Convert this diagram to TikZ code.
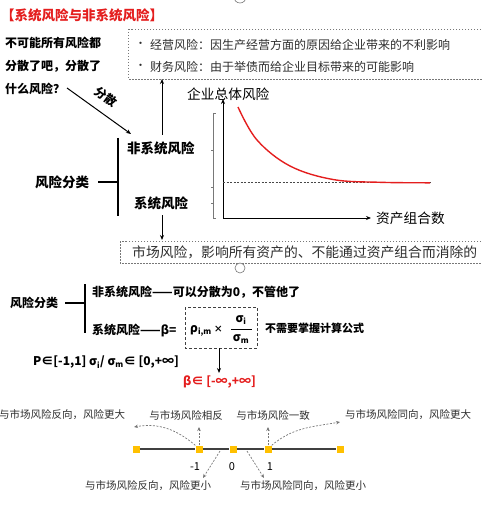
\documentclass[tikz,border=0pt]{standalone}
\usepackage{fontspec}
\setmainfont{Noto Sans CJK SC}
\usetikzlibrary{arrows.meta}
\definecolor{rred}{RGB}{228,30,30}
\definecolor{txtg}{RGB}{45,45,45}
\definecolor{dashg}{RGB}{120,120,120}
\definecolor{sq}{RGB}{255,192,0}
\begin{document}
\begin{tikzpicture}[x=1pt,y=-1pt,
  lbl/.style={inner sep=0pt, anchor=west, text=txtg},
  bb/.style={lbl, font=\fontsize{12}{14}\selectfont\bfseries, text=black},
  bigb/.style={lbl, font=\fontsize{13.5}{15}\selectfont\bfseries, text=black},
  reg/.style={lbl, font=\fontsize{12}{14}\selectfont},
  small/.style={inner sep=0pt, font=\fontsize{10.5}{12}\selectfont, text=txtg},
  dbox/.style={draw=dashg, dash pattern=on 1.5pt off 1.5pt, line width=0.7pt},
  arr/.style={-{Stealth[length=5pt,width=4pt]}, line width=1pt},
  darr/.style={-{Stealth[length=4pt,width=3.5pt]}, draw=dashg, dash pattern=on 2pt off 1.5pt, line width=0.7pt},
  sqr/.style={fill=sq, minimum size=7pt, inner sep=0pt}]
\useasboundingbox (0,0) rectangle (481,505);
% top partial circle
\draw[dashg, line width=0.6pt] (240,-3) circle (6);
% title
\node[lbl, font=\fontsize{13.5}{15}\selectfont\bfseries, text=rred] (title) at (1,15) {【系统风险与非系统风险】};
% question
\node[bb] (q1) at (5,43) {不可能所有风险都};
\node[bb] (q2) at (5,66) {分散了吧，分散了};
\node[bb] (q3) at (5,89) {什么风险？};
% top dashed box
\draw[dbox] (128,29) rectangle (490,79);
\coordinate (topb) at (162,79);
\node[lbl, font=\fontsize{11}{13}\selectfont] (b1) at (135,45) {•};
\node[reg] (t1) at (150,45) {经营风险：因生产经营方面的原因给企业带来的不利影响};
\node[lbl, font=\fontsize{11}{13}\selectfont] (b2) at (135,67) {•};
\node[reg] (t2) at (150,67) {财务风险：由于举债而给企业目标带来的可能影响};
% classification
\node[bigb] (nonsys) at (127,148) {非系统风险};
\node[bigb] (sys) at (134,203) {系统风险};
\node[bigb] (cls) at (35,182) {风险分类};
\draw[line width=1.2pt] (98,182) -- (118,182);
\draw[line width=1.2pt] (118,138) -- (118,216);
% arrow 分散
\coordinate (qa) at (67,88);
\coordinate (qb) at (131,134);
\draw[arr] (qa) -- (qb);
\node[inner sep=0pt, font=\fontsize{12}{14}\selectfont\bfseries, rotate=-36] (fs) at (106,97) {分散};
% vertical arrows
\coordinate (nsa) at (162,135);
\draw[arr] (nsa) -- (topb);
\coordinate (sa) at (162,215);
\coordinate (midt) at (162,240);
\draw[arr] (sa) -- (midt);
% chart
\coordinate (o) at (223,218);
\coordinate (ytop) at (223,99);
\coordinate (xend) at (371,218);
\draw[-{Stealth[length=5pt,width=4pt]}, line width=1pt] (o) -- (ytop);
\draw[-{Stealth[length=5pt,width=4pt]}, line width=1pt] (o) -- (xend);
\node[lbl, font=\fontsize{13.7}{15}\selectfont, text=black] (ylab) at (187,94) {企业总体风险};
\node[lbl, font=\fontsize{13.7}{15}\selectfont, text=black] (xlab) at (376,218) {资产组合数};
\draw[dashg!60!black, dash pattern=on 2pt off 1.5pt, line width=0.6pt] (223,182) -- (430,182);
\draw[rred, line width=1.4pt] plot[smooth, tension=0.6] coordinates {(238,107) (257,140) (290,166) (333,179.5) (380,182.3) (430,182.8)};
\draw[dashg, line width=0.6pt] (213,113) -- (213,218);
\draw[dashg, line width=0.6pt] (213,113) -- (216,113) (211,150) -- (213,150) (211,187) -- (213,187) (211,203) -- (213,203) (213,218) -- (216,218);
% middle dashed box
\draw[dbox] (120,241) rectangle (490,263);
\node[lbl, font=\fontsize{13.8}{15}\selectfont] (mt) at (132,252) {市场风险，影响所有资产的、不能通过资产组合而消除的};
\draw[dashg, line width=0.6pt, fill=white] (240,268) circle (5);
% lower classification
\node[bb] (cls2) at (10,303) {风险分类};
\draw[line width=1.2pt] (65,303) -- (85,303);
\draw[line width=1.2pt] (85,284) -- (85,333);
\node[bb] (ns2) at (92,292) {非系统风险——可以分散为0，不管他了};
\node[bb] (s2) at (92,330) {系统风险——β=};
\draw[dbox, draw=black!75, dash pattern=on 3pt off 2pt, line width=1pt] (185,307) rectangle (257,348);
\node[lbl, font=\fontsize{12}{14}\selectfont\bfseries, text=black] (rho) at (190,331) {ρ\textsubscript{i,m}\,{\fontsize{9}{10}\selectfont ×}};
\draw[line width=0.8pt] (231,329) -- (252,329);
\node[inner sep=0pt, font=\fontsize{12}{14}\selectfont\bfseries] (si) at (241,320) {σ\textsubscript{i}};
\node[inner sep=0pt, font=\fontsize{12}{14}\selectfont\bfseries] (sm) at (241,339) {σ\textsubscript{m}};
\node[lbl, font=\fontsize{11}{13}\selectfont\bfseries, text=black] (nn) at (265,328) {不需要掌握计算公式};
\coordinate (fb) at (219,348);
\coordinate (fe) at (219,373);
\draw[arr] (fb) -- (fe);
\node[bb] (pr) at (33,362) {P∈[-1,1] σ\textsubscript{i}/ σ\textsubscript{m}∈ [0,+∞]};
\node[bb, text=rred] (beta) at (183,382) {β∈ [-∞,+∞]};
% number line
\node[sqr] (n0) at (136,449) {};
\node[sqr] (nm1) at (199,449) {};
\node[sqr] (nz) at (233,449) {};
\node[sqr] (np1) at (268,449) {};
\node[sqr] (n5) at (340,449) {};
\draw[black!75, line width=1.5pt] (n0) -- (nm1) -- (nz) -- (np1) -- (n5);
\node[small, text=black, font=\fontsize{11}{12}\selectfont] (lm1) at (195,467) {-1};
\node[small, text=black, font=\fontsize{11}{12}\selectfont] (l0) at (232,467) {0};
\node[small, text=black, font=\fontsize{11}{12}\selectfont] (l1) at (270,467) {1};
\node[small] (ta) at (62,415) {与市场风险反向，风险更大};
\node[small] (tb) at (186,415) {与市场风险相反};
\node[small] (tc) at (273,415) {与市场风险一致};
\node[small] (td) at (408,415) {与市场风险同向，风险更大};
\node[small] (ba) at (148,486) {与市场风险反向，风险更小};
\node[small] (bb2) at (303,486) {与市场风险同向，风险更小};
\coordinate (am1) at (199,427);
\coordinate (ap1) at (268,427);
\coordinate (al) at (134,427);
\coordinate (ar) at (340,422);
\coordinate (dl0) at (220,451);
\coordinate (dl1) at (203,478);
\coordinate (dr0) at (247,451);
\coordinate (dr1) at (264,478);
\draw[darr] (nm1.north) -- (am1);
\draw[darr] (np1.north) -- (ap1);
\draw[darr] (nm1.north west) to[out=140, in=10] (al);
\draw[darr] (np1.north east) to[out=40, in=190] (ar);
\draw[darr] (dl0) -- (dl1);
\draw[darr] (dr0) -- (dr1);
\end{tikzpicture}
\end{document}
